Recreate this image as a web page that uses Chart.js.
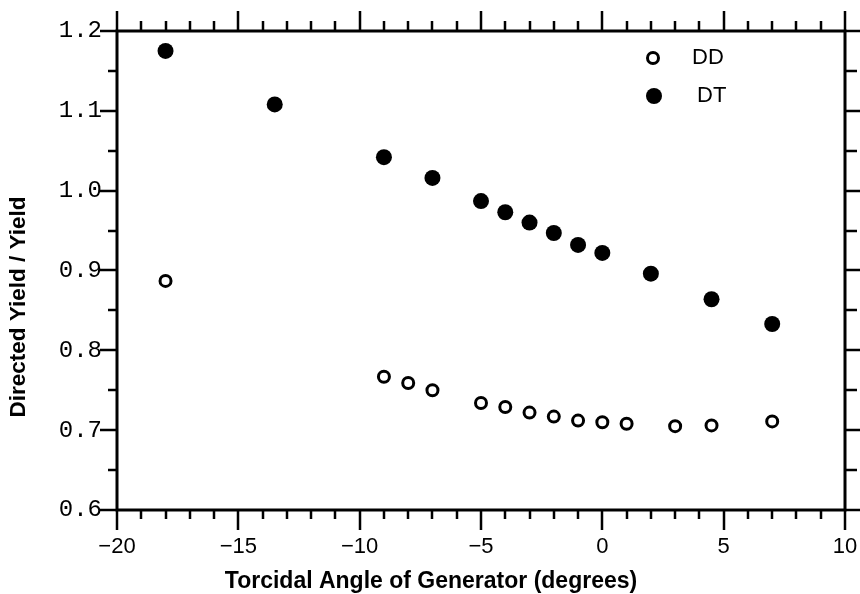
<!DOCTYPE html>
<html>
<head>
<meta charset="utf-8">
<script src="https://cdn.jsdelivr.net/npm/chart.js@4/dist/chart.umd.min.js"></script>
<style>
html,body{margin:0;padding:0;background:#fff;}
#wrap{width:860px;height:594px;position:relative;}
</style>
</head>
<body>
<div id="wrap"><canvas id="c" width="860" height="594"></canvas></div>
<script>
// ---- data ----
const ddAngles = [-18, -9, -8, -7, -5, -4, -3, -2, -1, 0, 1, 3, 4.5, 7];
const ddValues = [0.887, 0.767, 0.759, 0.750, 0.734, 0.729, 0.722, 0.717, 0.712, 0.710, 0.708, 0.705, 0.706, 0.711];
const dtAngles = [-18, -13.5, -9, -7, -5, -4, -3, -2, -1, 0, 2, 4.5, 7];
const dtValues = [1.175, 1.108, 1.042, 1.016, 0.987, 0.973, 0.960, 0.947, 0.932, 0.922, 0.896, 0.864, 0.833];
const seriesNames = ['DD', 'DT'];
const xTickValues = [-20, -15, -10, -5, 0, 5, 10];
const yTickValues = [0.6, 0.7, 0.8, 0.9, 1.0, 1.1, 1.2];
const xTitle = 'Torcidal Angle of Generator (degrees)';
const yTitle = 'Directed Yield / Yield';

const toPts = (xs, ys) => xs.map((x, i) => ({x: x, y: ys[i]}));

const framePlugin = {
  id: 'frame',
  afterDraw(chart) {
    const ctx = chart.ctx;
    const a = chart.chartArea;
    const xs = chart.scales.x, ys = chart.scales.y;
    ctx.save();
    ctx.strokeStyle = '#000';
    ctx.lineWidth = 3;
    ctx.lineCap = 'butt';
    ctx.strokeRect(a.left, a.top, a.right - a.left, a.bottom - a.top);
    ctx.lineWidth = 2.5;
    // x ticks (every 1, major every 5)
    for (let v = xs.min; v <= xs.max + 1e-9; v += 1) {
      const px = Math.round(xs.getPixelForValue(v));
      const major = Math.abs(v % 5) < 1e-9;
      ctx.beginPath();
      ctx.moveTo(px, a.bottom); ctx.lineTo(px, a.bottom + (major ? 20 : 9));
      ctx.moveTo(px, a.top); ctx.lineTo(px, a.top - (major ? 20 : 10));
      ctx.stroke();
    }
    // y ticks (every 0.05, major every 0.1)
    for (let i = 0; i <= 12; i++) {
      const v = ys.min + i * 0.05;
      const py = Math.round(ys.getPixelForValue(v));
      const major = i % 2 === 0;
      ctx.beginPath();
      ctx.moveTo(a.left, py); ctx.lineTo(a.left - (major ? 17 : 9), py);
      ctx.moveTo(a.right, py); ctx.lineTo(a.right + (major ? 15 : 12), py);
      ctx.stroke();
    }
    // legend
    const ds = chart.data.datasets;
    const leg = [[653, 58], [654, 96]];
    ds.forEach((d, i) => {
      const [lx, ly] = leg[i];
      ctx.beginPath();
      ctx.arc(lx, ly, d.pointRadius, 0, Math.PI * 2);
      ctx.fillStyle = d.pointBackgroundColor;
      ctx.fill();
      if (d.pointBorderWidth) {
        ctx.lineWidth = d.pointBorderWidth;
        ctx.strokeStyle = d.pointBorderColor;
        ctx.stroke();
      }
      ctx.fillStyle = '#000';
      ctx.font = '22px "Liberation Sans", Arial, sans-serif';
      ctx.textAlign = 'left';
      ctx.textBaseline = 'middle';
      ctx.fillText(d.label, i === 0 ? 692 : 697, ly);
    });
    // axis titles
    ctx.fillStyle = '#000';
    ctx.textAlign = 'center';
    ctx.textBaseline = 'middle';
    ctx.font = 'bold 23px "Liberation Sans", Arial, sans-serif';
    ctx.fillText(xTitle, 431, 582);
    ctx.font = 'bold 22.5px "Liberation Sans", Arial, sans-serif';
    ctx.save();
    ctx.translate(19, 307);
    ctx.rotate(-Math.PI / 2);
    ctx.fillText(yTitle, 0, 0);
    ctx.restore();
    ctx.restore();
  }
};

new Chart(document.getElementById('c'), {
  type: 'scatter',
  data: {
    datasets: [
      {
        label: seriesNames[0],
        data: toPts(ddAngles, ddValues),
        pointRadius: 5.5,
        pointBorderWidth: 3,
        pointBorderColor: '#000',
        pointBackgroundColor: '#fff',
        showLine: false
      },
      {
        label: seriesNames[1],
        data: toPts(dtAngles, dtValues),
        pointRadius: 8,
        pointBorderWidth: 0,
        pointBorderColor: '#000',
        pointBackgroundColor: '#000',
        showLine: false
      }
    ]
  },
  options: {
    responsive: false,
    animation: false,
    layout: { padding: { top: 31, right: 15, left: 0, bottom: 0 } },
    plugins: { legend: { display: false }, tooltip: { enabled: false } },
    scales: {
      x: {
        type: 'linear', position: 'bottom', min: -20, max: 10,
        afterBuildTicks: s => { s.ticks = xTickValues.map(v => ({value: v})); },
        afterFit: s => { s.height = 84; s.paddingLeft = 0; s.paddingRight = 0; },
        grid: { display: false, drawTicks: false },
        border: { display: false },
        ticks: {
          color: '#000',
          padding: 24,
          maxRotation: 0,
          font: { family: '"Liberation Sans", Arial, sans-serif', size: 22 },
          callback: v => (v < 0 ? '\u2212' + Math.abs(v) : String(v))
        }
      },
      y: {
        type: 'linear', position: 'left', min: 0.6, max: 1.2,
        afterBuildTicks: s => { s.ticks = yTickValues.map(v => ({value: v})); },
        afterFit: s => { s.width = 117; s.paddingTop = 0; s.paddingBottom = 0; },
        grid: { display: false, drawTicks: false },
        border: { display: false },
        ticks: {
          color: '#000',
          padding: 15,
          font: { family: '"Liberation Mono", "Courier New", monospace', size: 24 },
          callback: v => Number(v).toFixed(1)
        }
      }
    }
  },
  plugins: [framePlugin]
});
</script>
</body>
</html>
